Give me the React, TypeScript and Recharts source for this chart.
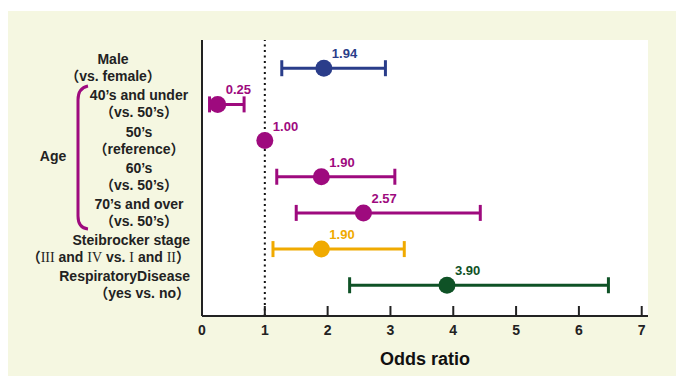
import React from 'react';
import {
  ScatterChart,
  Scatter,
  XAxis,
  YAxis,
  ErrorBar,
  ReferenceLine,
  CartesianGrid
} from 'recharts';

const rowLabels = [
  ['Male', '（vs. female）'],
  ['40’s and under', '（vs. 50’s）'],
  ['50’s', '（reference）'],
  ['60’s', '（vs. 50’s）'],
  ['70’s and over', '（vs. 50’s）'],
  ['Steibrocker stage', '（III and IV vs. I and II）'],
  ['RespiratoryDisease', '（yes vs. no）']
];
const oddsRatio = [1.94, 0.25, 1.0, 1.9, 2.57, 1.9, 3.9];
const ciLow = [1.27, 0.12, 1.0, 1.19, 1.5, 1.13, 2.35];
const ciHigh = [2.92, 0.67, 1.0, 3.07, 4.43, 3.22, 6.47];
const rowColors = ['#2a3d8a', '#9e0a7e', '#9e0a7e', '#9e0a7e', '#9e0a7e', '#f0aa00', '#0f5226'];
const xTicks = [0, 1, 2, 3, 4, 5, 6, 7];
const rowTicks = [0, 1, 2, 3, 4, 5, 6];

const FONT = '"Liberation Sans", Arial, "Noto Sans CJK JP", sans-serif';
const SERIF = '"Liberation Serif", "Times New Roman", serif';
const W = 677;
const H = 365;

// label placement per row: [x, anchor]
const labelPos: [number, 'middle' | 'end'][] = [
  [106, 'middle'],
  [132, 'middle'],
  [132, 'middle'],
  [132, 'middle'],
  [132, 'middle'],
  [183, 'end'],
  [183, 'end']
];

// roman numerals drawn in a serif face, like the original
const renderLine = (s: string) =>
  s.split(/(\bI{1,3}V?\b|\bIV\b)/).map((part, k) =>
    /^(I{1,3}|IV)$/.test(part) ? (
      <tspan key={k} fontFamily={SERIF} fontWeight={400}>{part}</tspan>
    ) : (
      <tspan key={k}>{part}</tspan>
    )
  );

const RowTick = (props: any) => {
  const { y, payload } = props;
  const i = payload.value;
  const lines = rowLabels[i];
  if (!lines) return null;
  const [lx, anchor] = labelPos[i];
  return (
    <g>
      <text x={lx} y={y - 4} textAnchor={anchor} fill="#222" fontSize={14} fontWeight={600} fontFamily={FONT}>
        {renderLine(lines[0])}
      </text>
      <text x={lx} y={y + 13} textAnchor={anchor} fill="#222" fontSize={14} fontWeight={600} fontFamily={FONT}>
        {renderLine(lines[1])}
      </text>
    </g>
  );
};

const OddsTick = (props: any) => {
  const { x, y, payload } = props;
  return (
    <g>
      <line x1={x} x2={x} y1={y} y2={y - 10} stroke="#222" strokeWidth={2} />
      <text x={x} y={y + 19} textAnchor="middle" fill="#222" fontSize={14} fontWeight={600} fontFamily={FONT}>
        {payload.value}
      </text>
    </g>
  );
};

const makeShape = (color: string) => (props: any) => {
  const { cx, cy, payload } = props;
  return (
    <g>
      <circle cx={cx} cy={cy} r={8.5} fill={color} />
      <text x={cx + 8} y={cy - 10} fill={color} fontSize={13} fontWeight={700} fontFamily={FONT}>
        {payload.label}
      </text>
    </g>
  );
};

export default function App() {
  const rows = oddsRatio.map((v, i) => ({
    x: v,
    y: i,
    err: [v - ciLow[i], ciHigh[i] - v],
    label: v.toFixed(2)
  }));

  return (
    <div style={{ position: 'relative', width: W, height: H, margin: '3px 0 0 -1px', background: '#f5f7e1' }}>
      <ScatterChart width={W} height={H} margin={{ top: 29, right: 36, bottom: 0, left: 0 }}>
        <CartesianGrid fill="#ffffff" horizontal={false} vertical={false} />
        <XAxis
          type="number"
          dataKey="x"
          domain={[0, 7.1]}
          ticks={xTicks}
          allowDataOverflow
          axisLine={{ stroke: '#222', strokeWidth: 2 }}
          tickLine={false}
          tickSize={0}
          tickMargin={0}
          tick={<OddsTick />}
          height={60}
          label={{
            value: 'Odds ratio',
            position: 'insideBottom',
            offset: 11,
            fill: '#111',
            fontSize: 18,
            fontWeight: 700,
            fontFamily: FONT
          }}
        />
        <YAxis
          type="number"
          dataKey="y"
          domain={[-0.78, 6.85]}
          reversed
          ticks={rowTicks}
          interval={0}
          allowDataOverflow
          axisLine={{ stroke: '#222', strokeWidth: 2 }}
          tickLine={false}
          tick={<RowTick />}
          width={195}
        />
        <ReferenceLine x={1} stroke="#111" strokeWidth={2} strokeDasharray="2 3.5" />
        {rows.map((r, i) => (
          <Scatter
            key={i}
            data={[r]}
            fill={rowColors[i]}
            shape={makeShape(rowColors[i])}
            isAnimationActive={false}
          >
            {ciHigh[i] > ciLow[i] && (
              <ErrorBar
                dataKey="err"
                direction="x"
                width={8}
                stroke={rowColors[i]}
                strokeWidth={3}
                isAnimationActive={false}
              />
            )}
          </Scatter>
        ))}
      </ScatterChart>
      <svg width={W} height={H} style={{ position: 'absolute', left: 0, top: 0, pointerEvents: 'none' }}>
        <path d="M 81 75 Q 71 77 71 89 L 71 205 Q 71 217 81 218" fill="none" stroke="#9e0a7e" strokeWidth={3} />
        <text x={46} y={150} textAnchor="middle" fill="#222" fontSize={14} fontWeight={600} fontFamily={FONT}>
          Age
        </text>
      </svg>
    </div>
  );
}
